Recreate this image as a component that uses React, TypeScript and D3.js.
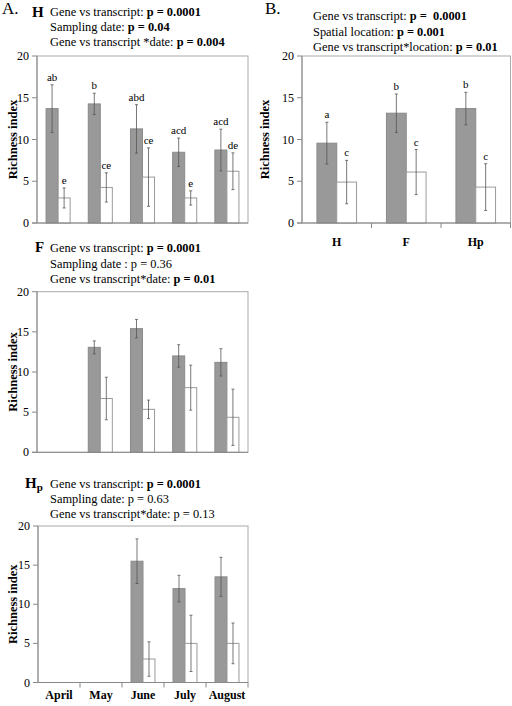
import React from "react";
import * as d3 from "d3";

const months = ["April", "May", "June", "July", "August"];
const locations = ["H", "F", "Hp"];

// Panel A (H)
const hGene = [13.7, 14.26, 11.27, 8.47, 8.74];
const hGeneErr = [2.85, 1.28, 2.9, 1.7, 2.5];
const hTrans = [3.0, 4.26, 5.5, 3.0, 6.2];
const hTransErr = [1.2, 1.75, 3.5, 0.85, 2.2];
const hGeneLetters = ["ab", "b", "abd", "acd", "acd"];
const hTransLetters = ["e", "ce", "ce", "e", "de"];

// Panel B (locations)
const locGene = [9.56, 13.15, 13.7];
const locGeneErr = [2.5, 2.3, 1.95];
const locTrans = [4.9, 6.1, 4.3];
const locTransErr = [2.6, 2.7, 2.8];
const locGeneLetters = ["a", "b", "b"];
const locTransLetters = ["c", "c", "c"];

// Panel F
const fGene = [null, 13.07, 15.4, 12.0, 11.2];
const fGeneErr = [null, 0.8, 1.15, 1.4, 1.7];
const fTrans = [null, 6.7, 5.35, 8.05, 4.36];
const fTransErr = [null, 2.65, 1.15, 2.8, 3.5];

// Panel Hp
const hpGene = [null, null, 15.5, 12.0, 13.5];
const hpGeneErr = [null, null, 2.85, 1.7, 2.5];
const hpTrans = [null, null, 3.0, 5.0, 5.0];
const hpTransErr = [null, null, 2.2, 3.6, 2.6];

const yTicks = [0, 5, 10, 15, 20];

const FONT = "'Liberation Serif', 'Times New Roman', Times, serif";
const fs = (size: number, bold = false): React.CSSProperties => ({
  fontFamily: FONT,
  fontSize: size,
  fontWeight: bold ? "bold" : "normal",
});

type PanelProps = {
  x0: number; x1: number; yTop: number; yBot: number;
  cats: string[];
  gene: (number | null)[]; geneErr: (number | null)[];
  trans: (number | null)[]; transErr: (number | null)[];
  geneLetters?: string[]; transLetters?: string[];
  xLabels?: boolean; xTicks?: boolean; labelX: number; xLabelY?: number;
};

function Panel(p: PanelProps) {
  const x = d3.scaleBand<string>().domain(p.cats).range([p.x0, p.x1]).paddingInner(0.43).paddingOuter(0.215);
  const y = d3.scaleLinear().domain([0, 20]).range([p.yBot, p.yTop]);
  const bw = x.bandwidth() / 2;
  const step = (p.x1 - p.x0) / p.cats.length;
  const els: React.ReactNode[] = [];
  p.cats.forEach((c, i) => {
    const series = [
      { v: p.gene[i], e: p.geneErr[i], l: p.geneLetters?.[i], fill: "#999999", stroke: "#8a8a8a", off: 0 },
      { v: p.trans[i], e: p.transErr[i], l: p.transLetters?.[i], fill: "#ffffff", stroke: "#9a9a9a", off: bw },
    ];
    series.forEach((s, j) => {
      if (s.v == null) return;
      const bx = (x(c) as number) + s.off;
      const cx = bx + bw / 2;
      const e = s.e ?? 0;
      els.push(
        <g key={`${c}-${j}`}>
          <rect x={bx} y={y(s.v)} width={bw} height={y(0) - y(s.v)} fill={s.fill} stroke={s.stroke} strokeWidth={1} />
          <line x1={cx} x2={cx} y1={y(s.v - e)} y2={y(s.v + e)} stroke="#555" strokeWidth={0.8} />
          <line x1={cx - 1.5} x2={cx + 1.5} y1={y(s.v - e)} y2={y(s.v - e)} stroke="#555" strokeWidth={0.8} />
          <line x1={cx - 1.5} x2={cx + 1.5} y1={y(s.v + e)} y2={y(s.v + e)} stroke="#555" strokeWidth={0.8} />
          {s.l && (
            <text x={cx} y={y(s.v + e) - 4} textAnchor="middle" style={fs(11)}>{s.l}</text>
          )}
        </g>
      );
    });
  });
  return (
    <g>
      <rect x={p.x0} y={p.yTop} width={p.x1 - p.x0} height={p.yBot - p.yTop} fill="none" stroke="#aaaaaa" strokeWidth={1} />
      <line x1={p.x0} x2={p.x0} y1={p.yTop} y2={p.yBot} stroke="#888" />
      {yTicks.map((t) => (
        <g key={t}>
          <line x1={p.x0 - 5} x2={p.x0} y1={y(t)} y2={y(t)} stroke="#888" />
          <text x={p.x0 - 8} y={y(t) + 4} textAnchor="end" style={fs(12)}>{t}</text>
        </g>
      ))}
      {els}
      <line x1={p.x0 - 5} x2={p.x1} y1={p.yBot} y2={p.yBot} stroke="#888" />
      {p.xTicks && p.cats.map((c, i) => (
        <line key={c} x1={p.x0 + step * (i + 1)} x2={p.x0 + step * (i + 1)} y1={p.yBot} y2={p.yBot + 5} stroke="#888" />
      ))}
      {p.xLabels && p.cats.map((c) => (
        <text key={c} x={(x(c) as number) + x.bandwidth() / 2} y={p.xLabelY} textAnchor="middle" style={fs(12, true)}>{c}</text>
      ))}
      <text transform={`translate(${p.labelX},${(p.yTop + p.yBot) / 2}) rotate(-90)`} textAnchor="middle" style={fs(12.5, true)}>Richness index</text>
    </g>
  );
}

type Part = { t: string; b?: boolean };
function Lines({ x, ys, lines, size = 12.4 }: { x: number; ys: number[]; lines: Part[][]; size?: number }) {
  return (
    <g>
      {lines.map((ln, i) => (
        <text key={i} x={x} y={ys[i]} style={{ ...fs(size), whiteSpace: "pre" }}>
          {ln.map((pt, k) => (
            <tspan key={k} style={{ fontWeight: pt.b ? "bold" : "normal" }}>{pt.t}</tspan>
          ))}
        </text>
      ))}
    </g>
  );
}

export default function App() {
  return (
    <svg width={512} height={706} style={{ position: "absolute", left: 0, top: 0, background: "#fff" }}>
      <text x={2} y={14} style={fs(17)}>A.</text>
      <text x={32} y={17} style={fs(15, true)}>H</text>
      <Lines x={50} ys={[16, 31, 46]} lines={[
        [{ t: "Gene vs transcript: " }, { t: "p = 0.0001", b: true }],
        [{ t: "Sampling date: " }, { t: "p = 0.04", b: true }],
        [{ t: "Gene vs transcript *date: " }, { t: "p = 0.004", b: true }],
      ]} />
      <Panel x0={37} x1={248} yTop={56} yBot={223} cats={months} gene={hGene} geneErr={hGeneErr} trans={hTrans} transErr={hTransErr}
        geneLetters={hGeneLetters} transLetters={hTransLetters} labelX={17} />

      <text x={265} y={14} style={fs(17)}>B.</text>
      <Lines x={313} ys={[19.5, 35.5, 51]} lines={[
        [{ t: "Gene vs transcript: " }, { t: "p =  0.0001", b: true }],
        [{ t: "Spatial location: " }, { t: "p = 0.001", b: true }],
        [{ t: "Gene vs transcript*location: " }, { t: "p = 0.01", b: true }],
      ]} />
      <Panel x0={302} x1={510.5} yTop={56} yBot={223} cats={locations} gene={locGene} geneErr={locGeneErr} trans={locTrans} transErr={locTransErr}
        geneLetters={locGeneLetters} transLetters={locTransLetters} xLabels xTicks xLabelY={246} labelX={269} />

      <text x={35} y={252} style={fs(15, true)}>F</text>
      <Lines x={50} ys={[252, 267.5, 282.5]} lines={[
        [{ t: "Gene vs transcript: " }, { t: "p = 0.0001", b: true }],
        [{ t: "Sampling date : p = 0.36" }],
        [{ t: "Gene vs transcript*date: " }, { t: "p = 0.01", b: true }],
      ]} />
      <Panel x0={37} x1={248} yTop={291.7} yBot={452.3} cats={months} gene={fGene} geneErr={fGeneErr} trans={fTrans} transErr={fTransErr} labelX={17} />

      <text x={25} y={488} style={fs(15, true)}>H<tspan dy={3} style={fs(11, true)}>p</tspan></text>
      <Lines x={50} ys={[488, 503, 518]} lines={[
        [{ t: "Gene vs transcript: " }, { t: "p = 0.0001", b: true }],
        [{ t: "Sampling date: p = 0.63" }],
        [{ t: "Gene vs transcript*date: p = 0.13" }],
      ]} />
      <Panel x0={38} x1={248} yTop={526} yBot={682.5} cats={months} gene={hpGene} geneErr={hpGeneErr} trans={hpTrans} transErr={hpTransErr}
        xLabels xTicks xLabelY={699} labelX={17} />
    </svg>
  );
}
